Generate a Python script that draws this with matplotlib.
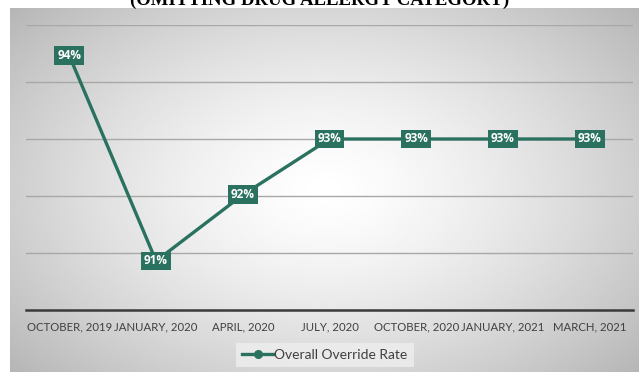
import numpy as np
import matplotlib.pyplot as plt

# override rate by quarter (label text is the rounded value)
periods = ["OCTOBER, 2019", "JANUARY, 2020", "APRIL, 2020", "JULY, 2020",
           "OCTOBER, 2020", "JANUARY, 2021", "MARCH, 2021"]
rate = [94.46, 90.86, 92.02, 93.0, 93.0, 93.0, 93.0]
labels = ["94%", "91%", "92%", "93%", "93%", "93%", "93%"]
series_name = "Overall Override Rate"
title = "(OMITTING DRUG ALLERGY CATEGORY)"

teal = "#2a725f"
W, H = 639, 372

fig = plt.figure(figsize=(W / 100, H / 100), dpi=100)
fig.patch.set_facecolor("white")

# radial gradient background of the chart area
bg = fig.add_axes([10 / W, 0, (W - 10) / W, 364 / H])
yy, xx = np.mgrid[-1:1:200j, -1:1:300j]
r = np.sqrt((xx * 0.85) ** 2 + (yy * 0.75) ** 2)
bg.imshow(1 - 0.24 * np.clip(r, 0, 1.3) ** 1.4, cmap="gray", vmin=0, vmax=1,
          aspect="auto", extent=[0, 1, 0, 1], interpolation="bilinear")
bg.axis("off")

fig.text(0.5, 1.0, title, ha="center", va="center", fontsize=13.5,
         fontweight="bold", family="Liberation Serif", color="black")

ax = fig.add_axes([26 / W, 62 / H, (633 - 26) / W, (310 - 25) / H])
ax.patch.set_alpha(0)
x = np.arange(len(periods))
ax.plot(x, rate, color=teal, lw=2.4, marker="o", ms=10, mfc=teal, mec=teal,
        label=series_name, zorder=3)
for xi, v, t in zip(x, rate, labels):
    ax.text(xi, v, t, ha="center", va="center", color="white", fontsize=8.5,
            fontweight="bold", family="Open Sans", zorder=4,
            bbox=dict(boxstyle="square,pad=0.25", fc=teal, ec="none"))

ax.set_xlim(-0.5, len(periods) - 0.5)
ax.set_ylim(90, 95)
ax.set_yticks([91, 92, 93, 94, 95])
ax.yaxis.grid(True, color="#a8a8a8", lw=1)
ax.tick_params(axis="y", left=False, labelleft=False)
ax.set_xticks(x)
ax.set_xticklabels(periods, fontsize=8.2, family="Lato", color="#404040")
ax.tick_params(axis="x", length=0, pad=8)
for s in ["top", "right", "left"]:
    ax.spines[s].set_visible(False)
ax.spines["bottom"].set_color("#3a3a3a")
ax.spines["bottom"].set_linewidth(1.8)

leg = ax.legend(loc="center", bbox_to_anchor=(0.4926, -0.158), frameon=True,
                fancybox=False, prop={"family": "Lato", "size": 10},
                handlelength=2.2, handletextpad=0.1, markerscale=0.55,
                borderpad=0.45)
leg.get_frame().set_facecolor("#ececec")
leg.get_frame().set_edgecolor("none")
leg.get_frame().set_alpha(0.9)
for t in leg.get_texts():
    t.set_color("#404040")

fig.savefig("out.png", dpi=100)
